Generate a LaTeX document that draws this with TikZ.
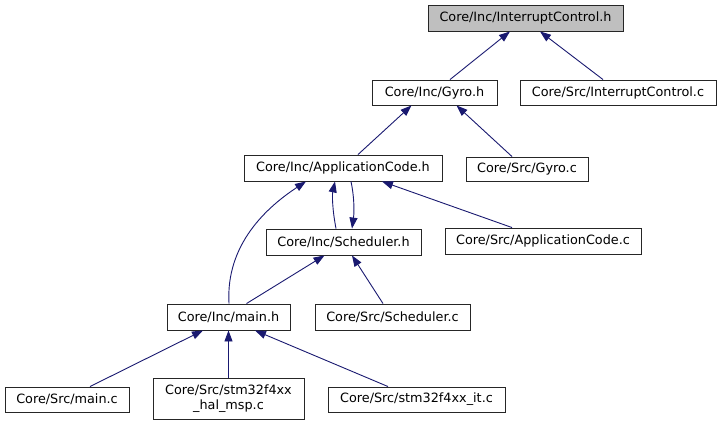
\documentclass[tikz,border=0pt]{standalone}
\usepackage{fontspec}
\setmainfont{DejaVu Sans}
\usetikzlibrary{arrows.meta}
\definecolor{edgeblue}{HTML}{191970}
\definecolor{rootgray}{HTML}{BFBFBF}
\begin{document}
\begin{tikzpicture}[x=1pt,y=-1pt,
  box/.style={draw=black!85, line width=0.9pt, fill=white, inner sep=0pt, align=center,
    font=\fontsize{12.8}{15}\selectfont},
  edge/.style={draw=edgeblue, line width=0.9pt, -{Triangle[length=11pt,width=8pt]}}]
\useasboundingbox (0,0) rectangle (721,425);
% nodes
\node[box, fill=rootgray, minimum width=195pt, minimum height=26pt] (ich) at (525.5,18) {Core/Inc/InterruptControl.h};
\node[box, minimum width=125pt, minimum height=25pt] (gyroh) at (434.5,92.5) {Core/Inc/Gyro.h};
\node[box, minimum width=196pt, minimum height=25pt] (icc) at (618,92.5) {Core/Src/InterruptControl.c};
\node[box, minimum width=198pt, minimum height=26pt] (ach) at (343,168) {Core/Inc/ApplicationCode.h};
\node[box, minimum width=122pt, minimum height=24pt] (gyroc) at (527,169) {Core/Src/Gyro.c};
\node[box, minimum width=155pt, minimum height=26pt] (sched) at (343.5,242) {Core/Inc/Scheduler.h};
\node[box, minimum width=196pt, minimum height=26pt] (acc) at (543,241) {Core/Src/ApplicationCode.c};
\node[box, minimum width=123pt, minimum height=26pt] (mainh) at (228.5,317) {Core/Inc/main.h};
\node[box, minimum width=155pt, minimum height=26pt] (schc) at (392.5,317) {Core/Src/Scheduler.c};
\node[box, minimum width=124pt, minimum height=25pt] (mainc) at (67,399.5) {Core/Src/main.c};
\node[box, minimum width=151pt, minimum height=41pt] (halmsp) at (228.5,398.5) {Core/Src/stm32f4xx\\\_hal\_msp.c};
\node[box, minimum width=177pt, minimum height=25pt] (itc) at (416.5,399.5) {Core/Src/stm32f4xx\_it.c};
% edges
\draw[edge] ([xshift=15.5pt]gyroh.north) -- ([xshift=-15.5pt]ich.south);
\draw[edge] ([xshift=-15pt]icc.north) -- ([xshift=14.5pt]ich.south);
\draw[edge] ([xshift=15pt]ach.north) -- ([xshift=-23pt]gyroh.south);
\draw[edge] ([xshift=-15pt]gyroc.north) -- ([xshift=22pt]gyroh.south);
\draw[edge] ([xshift=-7.5pt]sched.north) .. controls ([xshift=-11pt,yshift=18pt]sched.north) and ([xshift=-11pt,yshift=-14pt]ach.south) .. ([xshift=-8pt]ach.south);
\draw[edge] ([xshift=8pt]ach.south) .. controls ([xshift=11pt,yshift=-14pt]ach.south) and ([xshift=11pt,yshift=18pt]sched.north) .. ([xshift=8.5pt]sched.north);
\draw[edge] ([xshift=-31pt]acc.north) -- ([xshift=39pt]ach.south);
\draw[edge] ([xshift=0.5pt]mainh.north) .. controls ([xshift=-3pt,yshift=60pt]mainh.north) and ([xshift=-75pt,yshift=-25pt]ach.south) .. ([xshift=-37pt]ach.south);
\draw[edge] ([xshift=18pt]mainh.north) -- ([xshift=-19pt]sched.south);
\draw[edge] ([xshift=-9.5pt]schc.north) -- ([xshift=8.5pt]sched.south);
\draw[edge] ([xshift=23pt]mainc.north) -- ([xshift=-25.5pt]mainh.south);
\draw[edge] (halmsp.north) -- (mainh.south);
\draw[edge] ([xshift=-28.5pt]itc.north) -- ([xshift=26.5pt]mainh.south);
\end{tikzpicture}
\end{document}
